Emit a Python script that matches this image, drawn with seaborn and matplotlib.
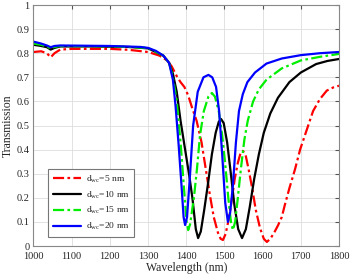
import matplotlib
matplotlib.use("Agg")
import matplotlib.pyplot as plt
import seaborn as sns
import pandas as pd

# ---- data ----
wl_5 = [1000, 1020, 1035, 1045, 1055, 1070, 1100, 1200, 1250, 1300, 1330, 1350, 1362,
        1375, 1385, 1395, 1405, 1415, 1427, 1440, 1452, 1462, 1472, 1483, 1490, 1496,
        1503, 1511, 1519, 1527, 1535, 1542, 1548, 1555, 1563, 1572, 1582, 1593, 1603,
        1611, 1620, 1630, 1640, 1650, 1658, 1670, 1685, 1698, 1715, 1732, 1750, 1768,
        1785, 1800]
tr_5 = [0.805, 0.808, 0.800, 0.783, 0.800, 0.815, 0.818, 0.818, 0.814, 0.805, 0.790,
        0.770, 0.745, 0.705, 0.680, 0.660, 0.625, 0.575, 0.520, 0.430, 0.310, 0.210,
        0.120, 0.055, 0.030, 0.025, 0.050, 0.110, 0.190, 0.280, 0.345, 0.385, 0.395,
        0.380, 0.320, 0.245, 0.150, 0.075, 0.030, 0.017, 0.030, 0.055, 0.085, 0.120,
        0.170, 0.240, 0.320, 0.400, 0.480, 0.560, 0.610, 0.645, 0.658, 0.665]

wl_10 = [1000, 1020, 1035, 1045, 1055, 1070, 1150, 1250, 1300, 1340, 1355, 1365, 1375,
         1385, 1392, 1400, 1408, 1416, 1425, 1431, 1438, 1447, 1457, 1467, 1477, 1485,
         1491, 1498, 1507, 1516, 1526, 1536, 1546, 1556, 1566, 1578, 1590, 1603, 1620,
         1640, 1670, 1700, 1740, 1770, 1800]
tr_10 = [0.835, 0.830, 0.825, 0.815, 0.822, 0.828, 0.828, 0.826, 0.820, 0.790, 0.760,
         0.715, 0.640, 0.520, 0.450, 0.370, 0.290, 0.200, 0.070, 0.033, 0.060, 0.150,
         0.260, 0.380, 0.470, 0.515, 0.527, 0.510, 0.430, 0.310, 0.170, 0.070, 0.033,
         0.070, 0.160, 0.280, 0.380, 0.470, 0.550, 0.615, 0.680, 0.720, 0.755, 0.768,
         0.776]

wl_15 = [1000, 1020, 1035, 1045, 1055, 1070, 1200, 1300, 1340, 1355, 1365, 1375, 1385,
         1395, 1401, 1405, 1410, 1420, 1428, 1436, 1446, 1458, 1467, 1475, 1485, 1494,
         1502, 1510, 1517, 1522, 1528, 1535, 1543, 1552, 1561, 1575, 1590, 1610, 1650,
         1700, 1750, 1800]
tr_15 = [0.840, 0.835, 0.828, 0.820, 0.826, 0.830, 0.829, 0.822, 0.790, 0.760, 0.700,
         0.600, 0.430, 0.220, 0.100, 0.066, 0.090, 0.200, 0.320, 0.460, 0.560, 0.620,
         0.635, 0.620, 0.560, 0.460, 0.340, 0.200, 0.100, 0.066, 0.100, 0.200, 0.320,
         0.440, 0.520, 0.600, 0.650, 0.690, 0.737, 0.770, 0.785, 0.797]

wl_20 = [1000, 1020, 1035, 1045, 1055, 1070, 1200, 1280, 1300, 1320, 1340, 1355, 1365,
         1372, 1380, 1388, 1393, 1397, 1402, 1410, 1418, 1430, 1445, 1458, 1468, 1478,
         1486, 1494, 1502, 1509, 1515, 1522, 1530, 1538, 1548, 1560, 1580, 1610, 1650,
         1700, 1750, 1800]
tr_20 = [0.848, 0.840, 0.832, 0.825, 0.830, 0.832, 0.830, 0.826, 0.822, 0.810, 0.790,
         0.760, 0.690, 0.580, 0.420, 0.240, 0.120, 0.087, 0.120, 0.300, 0.500, 0.640,
         0.700, 0.710, 0.700, 0.660, 0.560, 0.380, 0.180, 0.100, 0.140, 0.250, 0.430,
         0.560, 0.630, 0.680, 0.720, 0.757, 0.778, 0.792, 0.800, 0.805]

labels = [r"d$_{\mathrm{wc}}$=5 nm", r"d$_{\mathrm{wc}}$=10 nm",
          r"d$_{\mathrm{wc}}$=15 nm", r"d$_{\mathrm{wc}}$=20 nm"]
x_ticks = [1000, 1100, 1200, 1300, 1400, 1500, 1600, 1700, 1800]
y_ticks = [0, 0.1, 0.2, 0.3, 0.4, 0.5, 0.6, 0.7, 0.8, 0.9, 1]
y_tick_labels = ["0", "0.1", "0.2", "0.3", "0.4", "0.5", "0.6", "0.7", "0.8", "0.9", "1"]

# ---- styling ----
sns.set_style("whitegrid")
plt.rcParams["font.family"] = ["Liberation Serif", "DejaVu Serif"]
plt.rcParams["mathtext.fontset"] = "custom"
plt.rcParams["mathtext.rm"] = "Liberation Serif"
plt.rcParams["mathtext.it"] = "Liberation Serif:italic"

fig = plt.figure(figsize=(3.5, 2.78), dpi=100)
ax = fig.add_axes([0.0957, 0.115, 0.873, 0.867])

series = [
    (wl_5, tr_5, "#ff0000", (0, (5, 1.5, 1.2, 1.5))),
    (wl_10, tr_10, "#000000", "-"),
    (wl_15, tr_15, "#00ee00", (0, (5, 1.5, 1.2, 1.5))),
    (wl_20, tr_20, "#0000ff", "-"),
]
for (wl, tr, col, ls), lab in zip(series, labels):
    df = pd.DataFrame({"wl": wl, "tr": tr})
    sns.lineplot(data=df, x="wl", y="tr", ax=ax, color=col, linestyle=ls,
                 linewidth=1.6, label=lab, estimator=None, sort=True)

ax.set_xlim(1000, 1800)
ax.set_ylim(0, 1)
ax.set_xticks(x_ticks)
ax.set_yticks(y_ticks)
ax.set_yticklabels(y_tick_labels)
ax.tick_params(axis="both", labelsize=7.5, direction="in", length=3,
               top=True, right=True, color="#555555")
ax.tick_params(axis="x", pad=4)
ax.tick_params(axis="y", pad=3)
ax.set_xlabel("Wavelength (nm)", fontsize=8.5, labelpad=1)
ax.set_ylabel("Transmission", fontsize=8.5, labelpad=2)
ax.grid(True, color="#dddddd", linewidth=0.6)
for s in ax.spines.values():
    s.set_color("#888888")
    s.set_linewidth(0.8)

leg = ax.legend(loc="lower left", bbox_to_anchor=(0.047, 0.037), borderaxespad=0,
                fontsize=6.8, frameon=True, fancybox=False, handlelength=3.0,
                handletextpad=0.5, labelspacing=0.5, borderpad=0.5)
leg.get_frame().set_edgecolor("#777777")
leg.get_frame().set_linewidth(0.8)
leg.get_frame().set_alpha(1)

fig.savefig("out.png", dpi=100)
